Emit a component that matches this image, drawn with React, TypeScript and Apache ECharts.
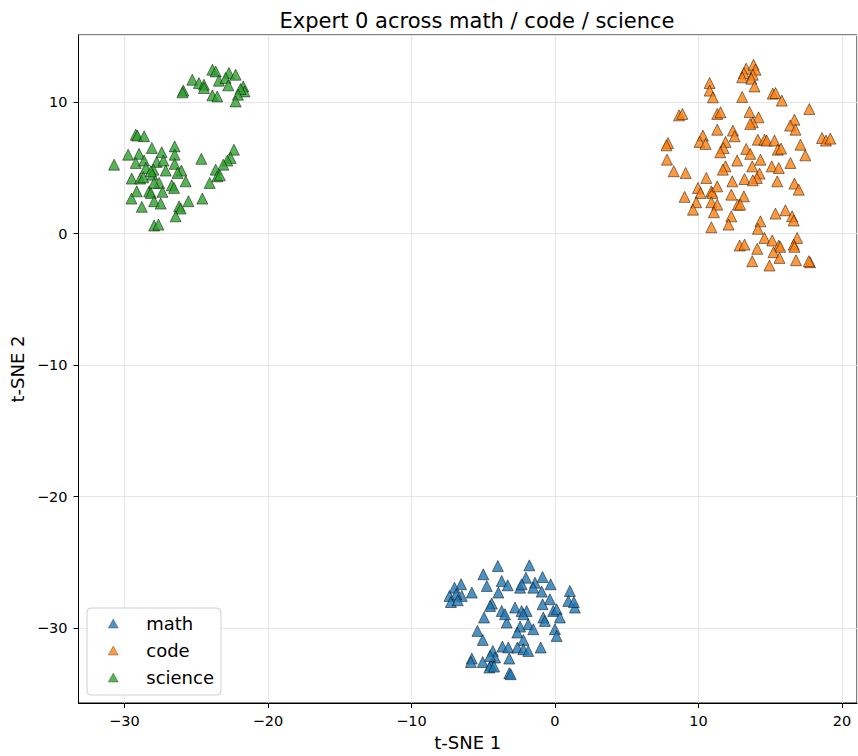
import React, { useEffect, useRef } from "react";
import * as echarts from "echarts";

const seriesNames = ["math", "code", "science"];
const seriesColors = ["#1f77b4", "#ff7f0e", "#2ca02c"];
const xTicks = [-30, -20, -10, 0, 10, 20];
const yTicks = [-30, -20, -10, 0, 10];

const mathPoints: number[][] = [
  [-3.98, -25.28], [-1.78, -25.23], [-4.99, -25.91], [-3.71, -26.42], [-4.75, -26.8],
  [-3.29, -26.75], [-2.02, -26.17], [-0.86, -26.12], [-1.39, -26.55], [-2.43, -26.93],
  [-0.3, -26.67], [-2.32, -26.67], [-1.51, -26.93], [-6.54, -26.67], [-7.0, -26.93],
  [-5.79, -27.3], [-3.94, -27.3], [-0.92, -27.23], [-7.35, -27.56], [-6.49, -27.56],
  [-6.88, -27.43], [-7.25, -28.02], [-6.77, -27.89], [1.04, -27.18], [0.93, -27.94],
  [1.39, -28.44], [1.32, -28.02], [-4.4, -28.14], [-4.52, -28.32], [-2.78, -28.44],
  [-3.71, -28.7], [-0.35, -27.81], [-0.86, -28.19], [-2.32, -28.7], [-1.97, -28.7],
  [-0.12, -28.7], [0.12, -28.57], [0.35, -29.2], [-0.81, -29.2], [-0.7, -29.46],
  [-2.2, -28.95], [-4.94, -29.2], [-3.36, -29.58], [-1.86, -29.71], [-2.43, -29.89],
  [-1.51, -30.09], [0.0, -30.09], [0.12, -30.6], [-5.4, -30.22], [-5.03, -30.9],
  [-2.62, -30.34], [-2.2, -30.9], [-3.66, -31.41], [-3.25, -31.48], [-2.62, -31.48],
  [-2.2, -31.61], [-1.86, -31.74], [-0.99, -31.48], [-4.33, -31.74], [-4.17, -32.24],
  [-5.79, -32.32], [-5.86, -32.58], [-5.03, -32.58], [-4.47, -32.83], [-4.57, -33.0],
  [-4.24, -32.93], [-3.18, -32.32], [-3.18, -33.43], [-3.08, -33.51], [-4.52, -32.12],
  [-3.48, -28.95]
];

const codePoints: number[][] = [
  [13.33, 12.54], [13.84, 12.84], [13.98, 12.46], [13.17, 12.21], [13.79, 12.08],
  [13.05, 11.88], [13.68, 11.78], [13.91, 11.19], [10.78, 11.45], [10.78, 10.87],
  [11.01, 10.36], [13.05, 10.39], [15.18, 10.64], [15.37, 10.69], [15.81, 10.11],
  [17.73, 9.47], [8.65, 8.99], [8.88, 9.1], [11.31, 9.1], [11.54, 9.22],
  [13.56, 9.25], [14.19, 8.84], [13.79, 8.46], [13.61, 8.34], [16.69, 8.66],
  [16.39, 8.21], [16.76, 7.9], [11.31, 7.9], [12.4, 7.83], [12.52, 7.4],
  [10.31, 7.45], [10.08, 6.97], [10.5, 6.82], [11.89, 6.97], [11.75, 6.51],
  [11.52, 6.18], [7.88, 6.89], [7.77, 6.71], [7.81, 5.62], [14.14, 7.14],
  [14.6, 7.14], [14.76, 7.07], [15.3, 7.07], [15.53, 6.38], [15.76, 6.46],
  [13.33, 6.44], [13.61, 6.06], [17.11, 6.76], [17.45, 5.95], [18.61, 7.27],
  [18.89, 7.07], [19.19, 7.22], [12.7, 5.55], [14.32, 5.62], [15.11, 5.11],
  [15.6, 4.99], [16.41, 5.37], [13.75, 5.11], [11.89, 5.11], [11.7, 4.86],
  [8.28, 4.74], [9.11, 4.61], [10.55, 4.23], [14.26, 4.56], [14.07, 4.23],
  [13.21, 4.15], [13.79, 4.05], [12.36, 3.97], [15.49, 3.97], [16.69, 3.8],
  [16.99, 3.34], [9.97, 3.47], [10.15, 3.09], [10.9, 3.21], [10.97, 3.09],
  [11.31, 3.59], [9.04, 2.79], [9.85, 2.38], [9.62, 1.82], [10.9, 2.38],
  [11.31, 2.2], [11.08, 1.62], [12.29, 2.96], [13.17, 2.83], [12.75, 2.2],
  [12.91, 2.2], [12.29, 1.31], [12.1, 0.68], [10.9, 0.48], [15.37, 1.52],
  [16.06, 1.77], [16.53, 1.31], [16.64, 0.99], [14.32, 0.93], [14.14, 0.36],
  [14.6, -0.33], [15.14, -0.53], [15.6, -0.91], [15.7, -1.01], [16.88, -0.33],
  [16.64, -0.84], [16.69, -1.01], [12.87, -0.91], [13.21, -0.84], [14.1, -1.16],
  [15.23, -1.42], [15.65, -1.85], [13.75, -2.1], [14.95, -2.43], [16.8, -2.03],
  [17.78, -2.18], [17.69, -2.1]
];

const sciencePoints: number[][] = [
  [-23.87, 12.46], [-23.64, 12.33], [-22.72, 12.21], [-22.25, 12.08], [-25.27, 11.7],
  [-24.81, 11.45], [-24.46, 11.32], [-23.42, 11.63], [-22.95, 11.83], [-22.76, 11.27],
  [-24.46, 11.07], [-25.89, 10.87], [-25.96, 10.74], [-21.72, 11.19], [-21.63, 10.81],
  [-21.91, 10.99], [-22.09, 10.56], [-23.87, 10.51], [-23.53, 10.43], [-22.25, 10.05],
  [-29.21, 7.52], [-29.1, 7.45], [-28.63, 7.4], [-30.72, 5.24], [-29.74, 6.0],
  [-28.98, 6.06], [-28.09, 6.51], [-26.5, 6.63], [-27.4, 6.18], [-26.5, 6.0],
  [-29.21, 5.37], [-28.63, 5.55], [-27.75, 5.45], [-27.28, 5.55], [-26.5, 5.3],
  [-24.64, 5.68], [-22.37, 6.38], [-22.6, 5.75], [-22.83, 5.55], [-23.11, 5.24],
  [-27.98, 4.86], [-28.51, 4.99], [-27.12, 4.79], [-26.03, 4.79], [-23.64, 4.86],
  [-26.3, 4.61], [-29.49, 4.18], [-28.9, 4.18], [-28.68, 4.28], [-28.05, 4.48],
  [-27.58, 3.85], [-26.7, 3.67], [-25.73, 3.97], [-23.53, 4.35], [-23.35, 4.43],
  [-24.06, 3.85], [-29.14, 3.21], [-28.28, 3.21], [-28.16, 3.09], [-27.35, 3.17],
  [-26.54, 3.47], [-29.51, 2.66], [-27.93, 2.46], [-27.47, 2.28], [-25.54, 2.46],
  [-24.57, 2.66], [-26.19, 2.07], [-26.08, 1.9], [-28.79, 2.03], [-26.43, 1.31],
  [-27.93, 0.61], [-27.63, 0.68], [-28.16, 4.74], [-27.93, 3.85]
];

const allPoints = [mathPoints, codePoints, sciencePoints];

const FONT = "DejaVu Sans";

function tickFormatter(ticks: number[]) {
  return (v: number) => {
    const r = Math.round(v * 1000) / 1000;
    if (!ticks.includes(r)) return "";
    return r < 0 ? "\u2212" + Math.abs(r) : String(r);
  };
}

export default function App() {
  const ref = useRef<HTMLDivElement>(null);
  useEffect(() => {
    if (!ref.current) return;
    const chart = echarts.init(ref.current, null, { renderer: "svg" });
    const axisCommon = {
      axisLine: { show: true, onZero: false, lineStyle: { color: "#000", width: 1 } },
      axisTick: { show: true, length: 5, inside: false, lineStyle: { color: "#000", width: 1 } },
      splitLine: { show: true, lineStyle: { color: "#e6e6e6", width: 1 } },
    };
    chart.setOption({
      animation: false,
      backgroundColor: "#fff",
      title: {
        text: "Expert 0 across math / code / science",
        left: 472,
        top: 5,
        textAlign: "center",
        textStyle: { fontFamily: FONT, fontSize: 21, fontWeight: "normal", color: "#000" },
      },
      grid: {
        left: 78,
        top: 35,
        width: 779,
        height: 669,
        show: true,
        borderColor: "#000",
        borderWidth: 1,
        backgroundColor: "transparent",
      },
      legend: {
        orient: "vertical",
        left: 87,
        top: 608,
        padding: [5, 7, 7, 21],
        itemWidth: 10,
        itemHeight: 9,
        itemGap: 6,
        backgroundColor: "#fff",
        borderColor: "#d0d0d0",
        borderWidth: 1,
        borderRadius: 4,
        itemStyle: { borderWidth: 0.5, borderColor: "#444" },
        data: seriesNames.map((n) => ({ name: n, icon: "triangle" })),
        textStyle: {
          fontFamily: FONT,
          fontSize: 18,
          color: "#000",
          lineHeight: 21,
          padding: [0, 0, 0, 23],
        },
      },
      xAxis: {
        type: "value",
        min: -33.2,
        max: 21.05,
        ...axisCommon,
        axisLabel: {
          show: true,
          margin: 10,
          fontFamily: FONT,
          fontSize: 14.5,
          color: "#000",
          formatter: tickFormatter(xTicks),
          showMinLabel: false,
          showMaxLabel: false,
        },
        name: "t-SNE 1",
        nameLocation: "middle",
        nameGap: 30,
        nameTextStyle: { fontFamily: FONT, fontSize: 18, color: "#000" },
      },
      yAxis: {
        type: "value",
        min: -35.7,
        max: 15.1,
        ...axisCommon,
        axisLabel: {
          show: true,
          margin: 11,
          fontFamily: FONT,
          fontSize: 14.5,
          color: "#000",
          formatter: tickFormatter(yTicks),
          showMinLabel: false,
          showMaxLabel: false,
        },
        name: "t-SNE 2",
        nameLocation: "middle",
        nameGap: 48,
        nameRotate: 90,
        nameTextStyle: { fontFamily: FONT, fontSize: 18, color: "#000" },
      },
      series: seriesNames.map((name, i) => ({
        name,
        type: "scatter",
        symbol: "triangle",
        symbolSize: 11,
        data: allPoints[i],
        itemStyle: {
          color: seriesColors[i],
          opacity: 0.8,
          borderColor: "#000",
          borderWidth: 0.6,
        },
      })),
    });
    return () => chart.dispose();
  }, []);
  return (
    <div
      ref={ref}
      style={{ position: "absolute", left: 0, top: 0, width: 858, height: 756 }}
    />
  );
}
